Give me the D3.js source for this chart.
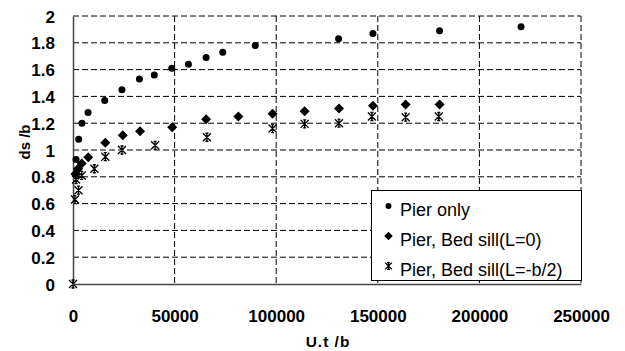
<!DOCTYPE html>
<html><head><meta charset="utf-8">
<script src="https://cdn.jsdelivr.net/npm/d3@7"></script>
<style>body{margin:0;background:#fff}svg{display:block}text{font-family:Arial,"Liberation Sans",sans-serif}</style>
</head><body><svg id="c" width="625" height="351"></svg>
<script>
const xTicks = [0, 50000, 100000, 150000, 200000, 250000];
const yTicks = [0, 0.2, 0.4, 0.6, 0.8, 1, 1.2, 1.4, 1.6, 1.8, 2];
const seriesNames = ["Pier only", "Pier, Bed sill(L=0)", "Pier, Bed sill(L=-b/2)"];
const pierX = [1500, 2800, 4400, 7400, 15600, 24100, 32700, 40000, 48600, 56800, 65500, 73700, 89700, 130700, 147600, 180400, 220500];
const pierY = [0.93, 1.08, 1.20, 1.28, 1.37, 1.45, 1.53, 1.56, 1.61, 1.64, 1.69, 1.73, 1.78, 1.83, 1.87, 1.89, 1.92];
const sillX = [1200, 2500, 4300, 7500, 15900, 24500, 33000, 48800, 65500, 81400, 98200, 114000, 130900, 147600, 163700, 180400];
const sillY = [0.82, 0.86, 0.90, 0.945, 1.055, 1.11, 1.14, 1.17, 1.23, 1.25, 1.27, 1.29, 1.31, 1.33, 1.34, 1.34];
const sill2X = [0, 1000, 2700, 1500, 4300, 10500, 15900, 24100, 40400, 65900, 98200, 114000, 130900, 147100, 163700, 180000];
const sill2Y = [0, 0.63, 0.70, 0.78, 0.81, 0.86, 0.95, 1.00, 1.035, 1.095, 1.16, 1.195, 1.20, 1.25, 1.245, 1.25];

const svg = d3.select("#c");
const L = 73, R = 581, T = 16, B = 284;
const x = d3.scaleLinear().domain([0, 250000]).range([L, R]);
const y = d3.scaleLinear().domain([0, 2]).range([B, T]);

// grid
const g = svg.append("g");
g.selectAll("line.h").data(yTicks.filter(d => d > 0)).join("line")
  .attr("x1", L).attr("x2", R).attr("y1", d => y(d)).attr("y2", d => y(d))
  .attr("stroke", "#000").attr("stroke-width", 1).attr("stroke-dasharray", "6,3");
g.selectAll("line.v").data(xTicks.filter(d => d > 0)).join("line")
  .attr("x1", d => x(d)).attr("x2", d => x(d)).attr("y1", T).attr("y2", B)
  .attr("stroke", "#000").attr("stroke-width", 1).attr("stroke-dasharray", "6,3");

// axes
const xAxis = d3.axisBottom(x).tickValues(xTicks).tickSize(0).tickPadding(25).tickFormat(d3.format("d"));
const yAxis = d3.axisLeft(y).tickValues(yTicks).tickSize(0).tickPadding(18).tickFormat(d => String(d));
const gx = svg.append("g").attr("transform", `translate(0,${B})`).call(xAxis);
const gy = svg.append("g").attr("transform", `translate(${L},0)`).call(yAxis);
[gx, gy].forEach(a => {
  a.select(".domain").attr("stroke", "#444").attr("stroke-width", 1.5);
  a.selectAll("text").attr("font-size", 17).attr("font-weight", "bold").attr("fill", "#000");
});
gx.selectAll("text").attr("dy", "0").attr("y", 38);
gy.selectAll("text").attr("dy", "0.36em");

// titles
svg.append("text").attr("x", 328).attr("y", 347).attr("text-anchor", "middle")
  .attr("font-size", 15.5).attr("font-weight", "bold").attr("letter-spacing", 1).text("U.t /b");
svg.append("text").attr("transform", "translate(30,142) rotate(-90)").attr("text-anchor", "middle")
  .attr("font-size", 15).attr("font-weight", "bold").text("ds /b");

// markers
function drawMarker(sel, type, s) {
  s = s || 1;
  if (type === 0) {
    sel.append("circle").attr("r", 3.5 * s).attr("fill", "#000");
  } else if (type === 1) {
    sel.append("path").attr("d", `M0,${-5*s}L${5*s},0L0,${5*s}L${-5*s},0Z`).attr("fill", "#000");
  } else {
    const a = 4 * s;
    sel.append("path").attr("d", `M${-a},${-a}L${a},${a}M${-a},${a}L${a},${-a}M0,${-a}L0,${a}M-1.5,${-a}L1.5,${-a}M-1.5,${a}L1.5,${a}`)
      .attr("stroke", "#000").attr("stroke-width", 1.3).attr("fill", "none");
  }
}
const series = [[pierX, pierY], [sillX, sillY], [sill2X, sill2Y]];
series.forEach(([xs, ys], i) => {
  const pts = xs.map((v, j) => [v, ys[j]]);
  svg.append("g").selectAll("g").data(pts).join("g")
    .attr("transform", d => `translate(${x(d[0])},${y(d[1])})`)
    .each(function () { drawMarker(d3.select(this), i); });
});

// legend
const lg = svg.append("g");
lg.append("rect").attr("x", 371.5).attr("y", 190.5).attr("width", 210).attr("height", 90)
  .attr("fill", "#fff").attr("stroke", "#000").attr("stroke-width", 1);
const legY = [216, 246, 276];
seriesNames.forEach((n, i) => {
  const it = lg.append("g").attr("transform", `translate(388.5,${legY[i] - 10})`);
  drawMarker(it, i, 0.85);
  lg.append("text").attr("x", 400).attr("y", legY[i]).attr("font-size", 18).text(n);
});
</script></body></html>
